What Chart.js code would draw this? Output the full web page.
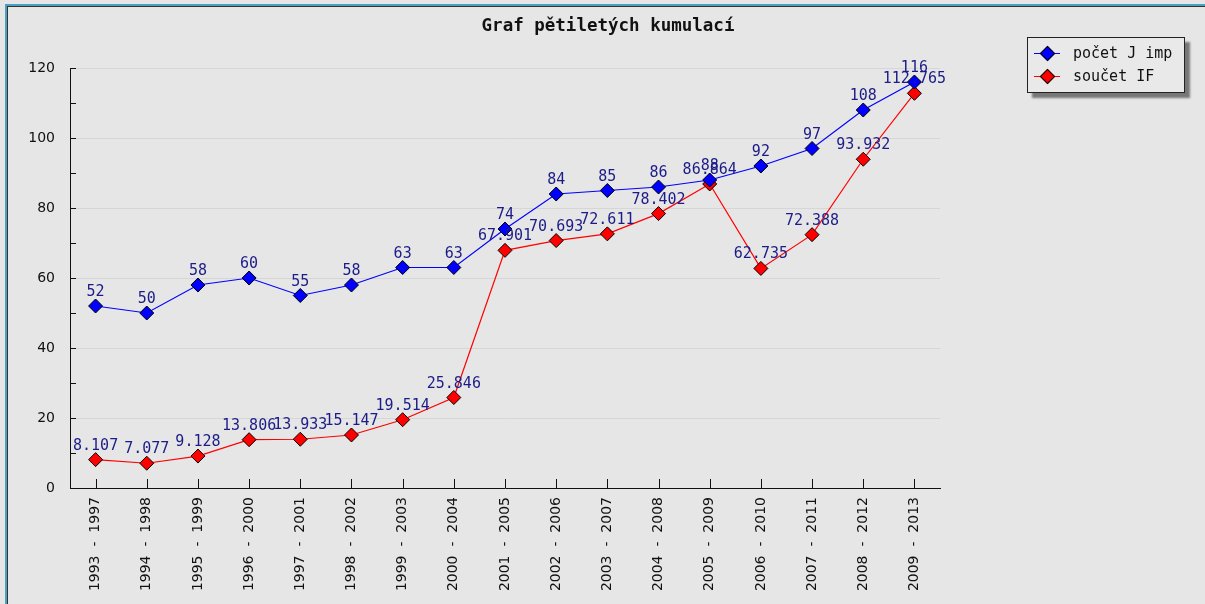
<!DOCTYPE html>
<html>
<head>
<meta charset="utf-8">
<script src="https://cdn.jsdelivr.net/npm/chart.js@4/dist/chart.umd.min.js"></script>
<style>
    html, body { margin: 0; padding: 0; }
    body { width: 1205px; height: 604px; background: #e6e6e6; position: relative; overflow: hidden; }
    #frame { position: absolute; left: 5px; top: 4px; width: 1205px; height: 610px;
             border-left: 2px solid #4aa0c2; border-top: 2px solid #4aa0c2; }
    #frame2 { position: absolute; left: 7px; top: 6px; width: 1205px; height: 610px;
              border-left: 1px solid #333; border-top: 1px solid #333; }
    #wrap { position: absolute; left: 0; top: 0; width: 1205px; height: 604px; }
    #title { position: absolute; left: 408px; width: 400px; top: 15px; text-align: center;
             font: bold 17.5px "DejaVu Sans Mono", monospace; color: #111; }
    #legend { position: absolute; left: 1027px; top: 37px; width: 156px; height: 54px;
              border: 1.5px solid #222; background: #e9e9e9; box-shadow: 5px 5px 2px #777; }
    .row { position: absolute; left: 0; height: 20px; font: 15px "DejaVu Sans Mono", monospace; color: #111; }
    .row span.txt { position: absolute; left: 45px; top: 1px; white-space: nowrap; }
    .row .ln { position: absolute; left: 6px; top: 10px; width: 26px; height: 1px; }
    .row .dm { position: absolute; left: 14px; top: 5px; width: 9px; height: 9px; transform: rotate(45deg);
               border: 1px solid #000; }
</style>
</head>
<body>
<div id="frame"></div>
<div id="frame2"></div>
<div id="wrap"><canvas id="chart" width="1205" height="604"></canvas></div>
<div id="title">Graf pětiletých kumulací</div>
<div id="legend"></div>
<script>
const categories = [
    "1993  -  1997", "1994  -  1998", "1995  -  1999", "1996  -  2000", "1997  -  2001",
    "1998  -  2002", "1999  -  2003", "2000  -  2004", "2001  -  2005", "2002  -  2006",
    "2003  -  2007", "2004  -  2008", "2005  -  2009", "2006  -  2010", "2007  -  2011",
    "2008  -  2012", "2009  -  2013"
];
const seriesNames = ["počet J imp", "součet IF"];
const pocetJImp = [52, 50, 58, 60, 55, 58, 63, 63, 74, 84, 85, 86, 88, 92, 97, 108, 116];
const soucetIF = [8.107, 7.077, 9.128, 13.806, 13.933, 15.147, 19.514, 25.846, 67.901,
    70.693, 72.611, 78.402, 86.864, 62.735, 72.388, 93.932, 112.765];
const yTicks = [0, 20, 40, 60, 80, 100, 120];

const colors = ["#0000ff", "#ff0000"];
const labelDecimals = [0, 3];

// value labels above each point
const valueLabels = {
    id: "valueLabels",
    afterDatasetsDraw(chart) {
        const ctx = chart.ctx;
        ctx.save();
        ctx.font = '15px "DejaVu Sans Mono", monospace';
        ctx.fillStyle = "#1c1c88";
        ctx.textAlign = "center";
        ctx.textBaseline = "alphabetic";
        chart.data.datasets.forEach((ds, di) => {
            chart.getDatasetMeta(di).data.forEach((pt, i) => {
                ctx.fillText(ds.data[i].toFixed(labelDecimals[di]), pt.x, pt.y - 10);
            });
        });
        ctx.restore();
    }
};

// tick marks pointing into the plot
const innerTicks = {
    id: "innerTicks",
    beforeDatasetsDraw(chart) {
        const ctx = chart.ctx;
        const x = chart.scales.x, y = chart.scales.y;
        ctx.save();
        ctx.strokeStyle = "#111";
        ctx.lineWidth = 1;
        ctx.beginPath();
        for (let v = y.min; v <= y.max; v += 10) {
            const py = Math.round(y.getPixelForValue(v)) + 0.5;
            ctx.moveTo(x.left, py);
            ctx.lineTo(x.left + 6, py);
        }
        x.ticks.forEach((t, i) => {
            const px = Math.round(x.getPixelForTick(i)) + 0.5;
            ctx.moveTo(px, y.bottom);
            ctx.lineTo(px, y.bottom - 9);
        });
        ctx.stroke();
        ctx.restore();
    }
};

new Chart(document.getElementById("chart"), {
    type: "line",
    data: {
        labels: categories,
        datasets: [pocetJImp, soucetIF].map((d, i) => ({
            label: seriesNames[i],
            data: d,
            borderColor: colors[i],
            backgroundColor: colors[i],
            borderWidth: 1.2,
            pointStyle: "rectRot",
            pointRadius: 7,
            pointHoverRadius: 7,
            pointBorderColor: "#000",
            pointBorderWidth: 1,
            tension: 0,
            clip: false
        }))
    },
    options: {
        responsive: false,
        animation: false,
        events: [],
        layout: { padding: { left: 0, top: 68, right: 265, bottom: 0 } },
        plugins: {
            legend: { display: false },
            title: { display: false },
            tooltip: { enabled: false }
        },
        scales: {
            x: {
                offset: true,
                grid: { display: false, drawTicks: false },
                border: { display: true, color: "#111", width: 1 },
                ticks: {
                    autoSkip: false,
                    minRotation: 90,
                    maxRotation: 90,
                    padding: 9,
                    color: "#111",
                    font: { family: "DejaVu Sans", size: 14 }
                },
                afterFit(s) { s.height = 116; }
            },
            y: {
                min: 0,
                max: 120,
                afterBuildTicks(s) { s.ticks = yTicks.map(v => ({ value: v })); },
                grid: { color: "#d6d6d6", drawTicks: false },
                border: { display: true, color: "#111", width: 1 },
                ticks: {
                    padding: 15,
                    color: "#111",
                    font: { family: "DejaVu Sans", size: 14 }
                },
                afterFit(s) { s.width = 70; }
            }
        }
    },
    plugins: [innerTicks, valueLabels]
});

// legend
const legend = document.getElementById("legend");
seriesNames.forEach((name, i) => {
    const row = document.createElement("div");
    row.className = "row";
    row.style.top = (5 + i * 23) + "px";
    row.style.width = "156px";
    row.innerHTML = `<div class="ln" style="background:${colors[i]}"></div>` +
        `<div class="dm" style="background:${colors[i]}"></div>` +
        `<span class="txt">${name}</span>`;
    legend.appendChild(row);
});
</script>
</body>
</html>
